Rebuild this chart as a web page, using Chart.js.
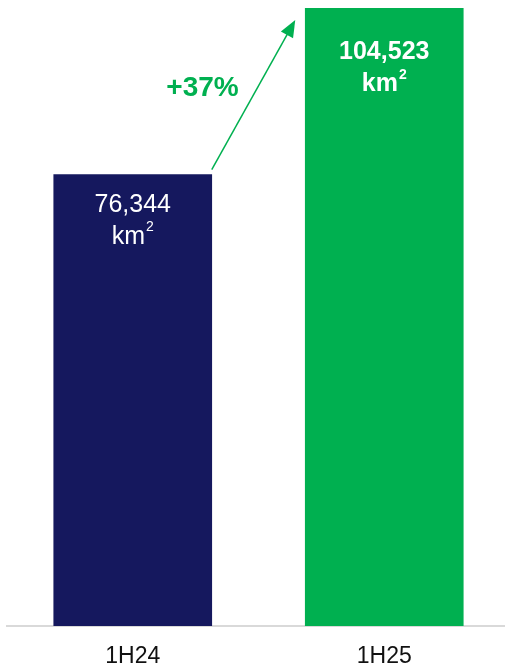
<!DOCTYPE html>
<html>
<head>
<meta charset="utf-8">
<script src="https://cdn.jsdelivr.net/npm/chart.js@4"></script>
<style>
  html, body { margin: 0; padding: 0; background: #fff; overflow: hidden; }
  #wrap { width: 505px; height: 666px; overflow: hidden; }
</style>
</head>
<body>
<div id="wrap"><canvas id="c" width="510" height="687"></canvas></div>
<script>
const categories = [ '1H24', '1H25' ];
const areaValues = [ 76344, 104523 ];
const valueLabels = [ '76,344', '104,523' ];
const unitBase = 'km';
const unitSup = '2';
const growthLabel = '+37%';
const barColors = [ '#15185e', '#00b050' ];

const GREEN = '#00b050';
const FONT = '"Liberation Sans", Arial, sans-serif';

// value labels inside bars + growth arrow
const annotate = {
	id: 'annotate',
	afterDatasetsDraw: ( chart ) => {
		const ctx = chart.ctx;
		const meta = chart.getDatasetMeta( 0 );
		ctx.save();
		ctx.textBaseline = 'middle';
		ctx.fillStyle = '#fff';
		meta.data.forEach( ( bar, i ) => {
			const bold = i === 1 ? 'bold ' : '';
			const off = i === 1 ? 44 : 30;
			ctx.textAlign = 'center';
			ctx.font = bold + '25px ' + FONT;
			ctx.fillText( valueLabels[ i ], bar.x, bar.y + off );
			// km + superscript 2
			const w1 = ctx.measureText( unitBase ).width;
			ctx.font = bold + '14px ' + FONT;
			const w2 = ctx.measureText( unitSup ).width;
			const left = bar.x - ( w1 + w2 + 1 ) / 2;
			ctx.textAlign = 'left';
			ctx.font = bold + '25px ' + FONT;
			ctx.fillText( unitBase, left, bar.y + off + 32 );
			ctx.font = bold + '14px ' + FONT;
			ctx.fillText( unitSup, left + w1 + 1, bar.y + off + 23 );
		} );

		// arrow from first bar top-right to second bar top-left
		const b0 = meta.data[ 0 ];
		const b1 = meta.data[ 1 ];
		const x0 = b0.x + b0.width / 2;
		const y0 = b0.y - 5;
		const x1 = b1.x - b1.width / 2 - 10;
		const y1 = b1.y + 12;
		const ang = Math.atan2( y1 - y0, x1 - x0 );
		const headLen = 17;
		const headW = 7;
		ctx.strokeStyle = GREEN;
		ctx.fillStyle = GREEN;
		ctx.lineWidth = 1.5;
		ctx.beginPath();
		ctx.moveTo( x0, y0 );
		ctx.lineTo( x1 - Math.cos( ang ) * headLen * 0.8, y1 - Math.sin( ang ) * headLen * 0.8 );
		ctx.stroke();
		ctx.beginPath();
		ctx.moveTo( x1, y1 );
		const bx = x1 - Math.cos( ang ) * headLen;
		const by = y1 - Math.sin( ang ) * headLen;
		ctx.lineTo( bx + Math.sin( ang ) * headW, by - Math.cos( ang ) * headW );
		ctx.lineTo( bx - Math.sin( ang ) * headW, by + Math.cos( ang ) * headW );
		ctx.closePath();
		ctx.fill();

		ctx.textAlign = 'center';
		ctx.font = 'bold 28px ' + FONT;
		ctx.fillText( growthLabel, ( x0 + x1 ) / 2 - 51, 88 );
		ctx.restore();
	}
};

window.onload = () => {
	const ctx = document.getElementById( 'c' ).getContext( '2d' );
	new Chart( ctx, {
		type: 'bar',
		data: {
			labels: categories,
			datasets: [ {
				data: areaValues,
				backgroundColor: barColors,
				barThickness: 158,
				borderWidth: 0
			} ]
		},
		options: {
			responsive: false,
			animation: false,
			events: [],
			layout: { padding: { left: 7, right: 0, top: 8, bottom: 0 } },
			plugins: {
				legend: { display: false },
				tooltip: { enabled: false }
			},
			scales: {
				x: {
					grid: { display: false, drawTicks: false },
					border: { display: true, color: '#d9d9d9', width: 2 },
					ticks: {
						color: '#111',
						padding: 19,
						font: { family: FONT, size: 23, lineHeight: 1 }
					}
				},
				y: {
					display: false,
					min: 0,
					max: 104523
				}
			}
		},
		plugins: [ annotate ]
	} );
};
</script>
</body>
</html>
